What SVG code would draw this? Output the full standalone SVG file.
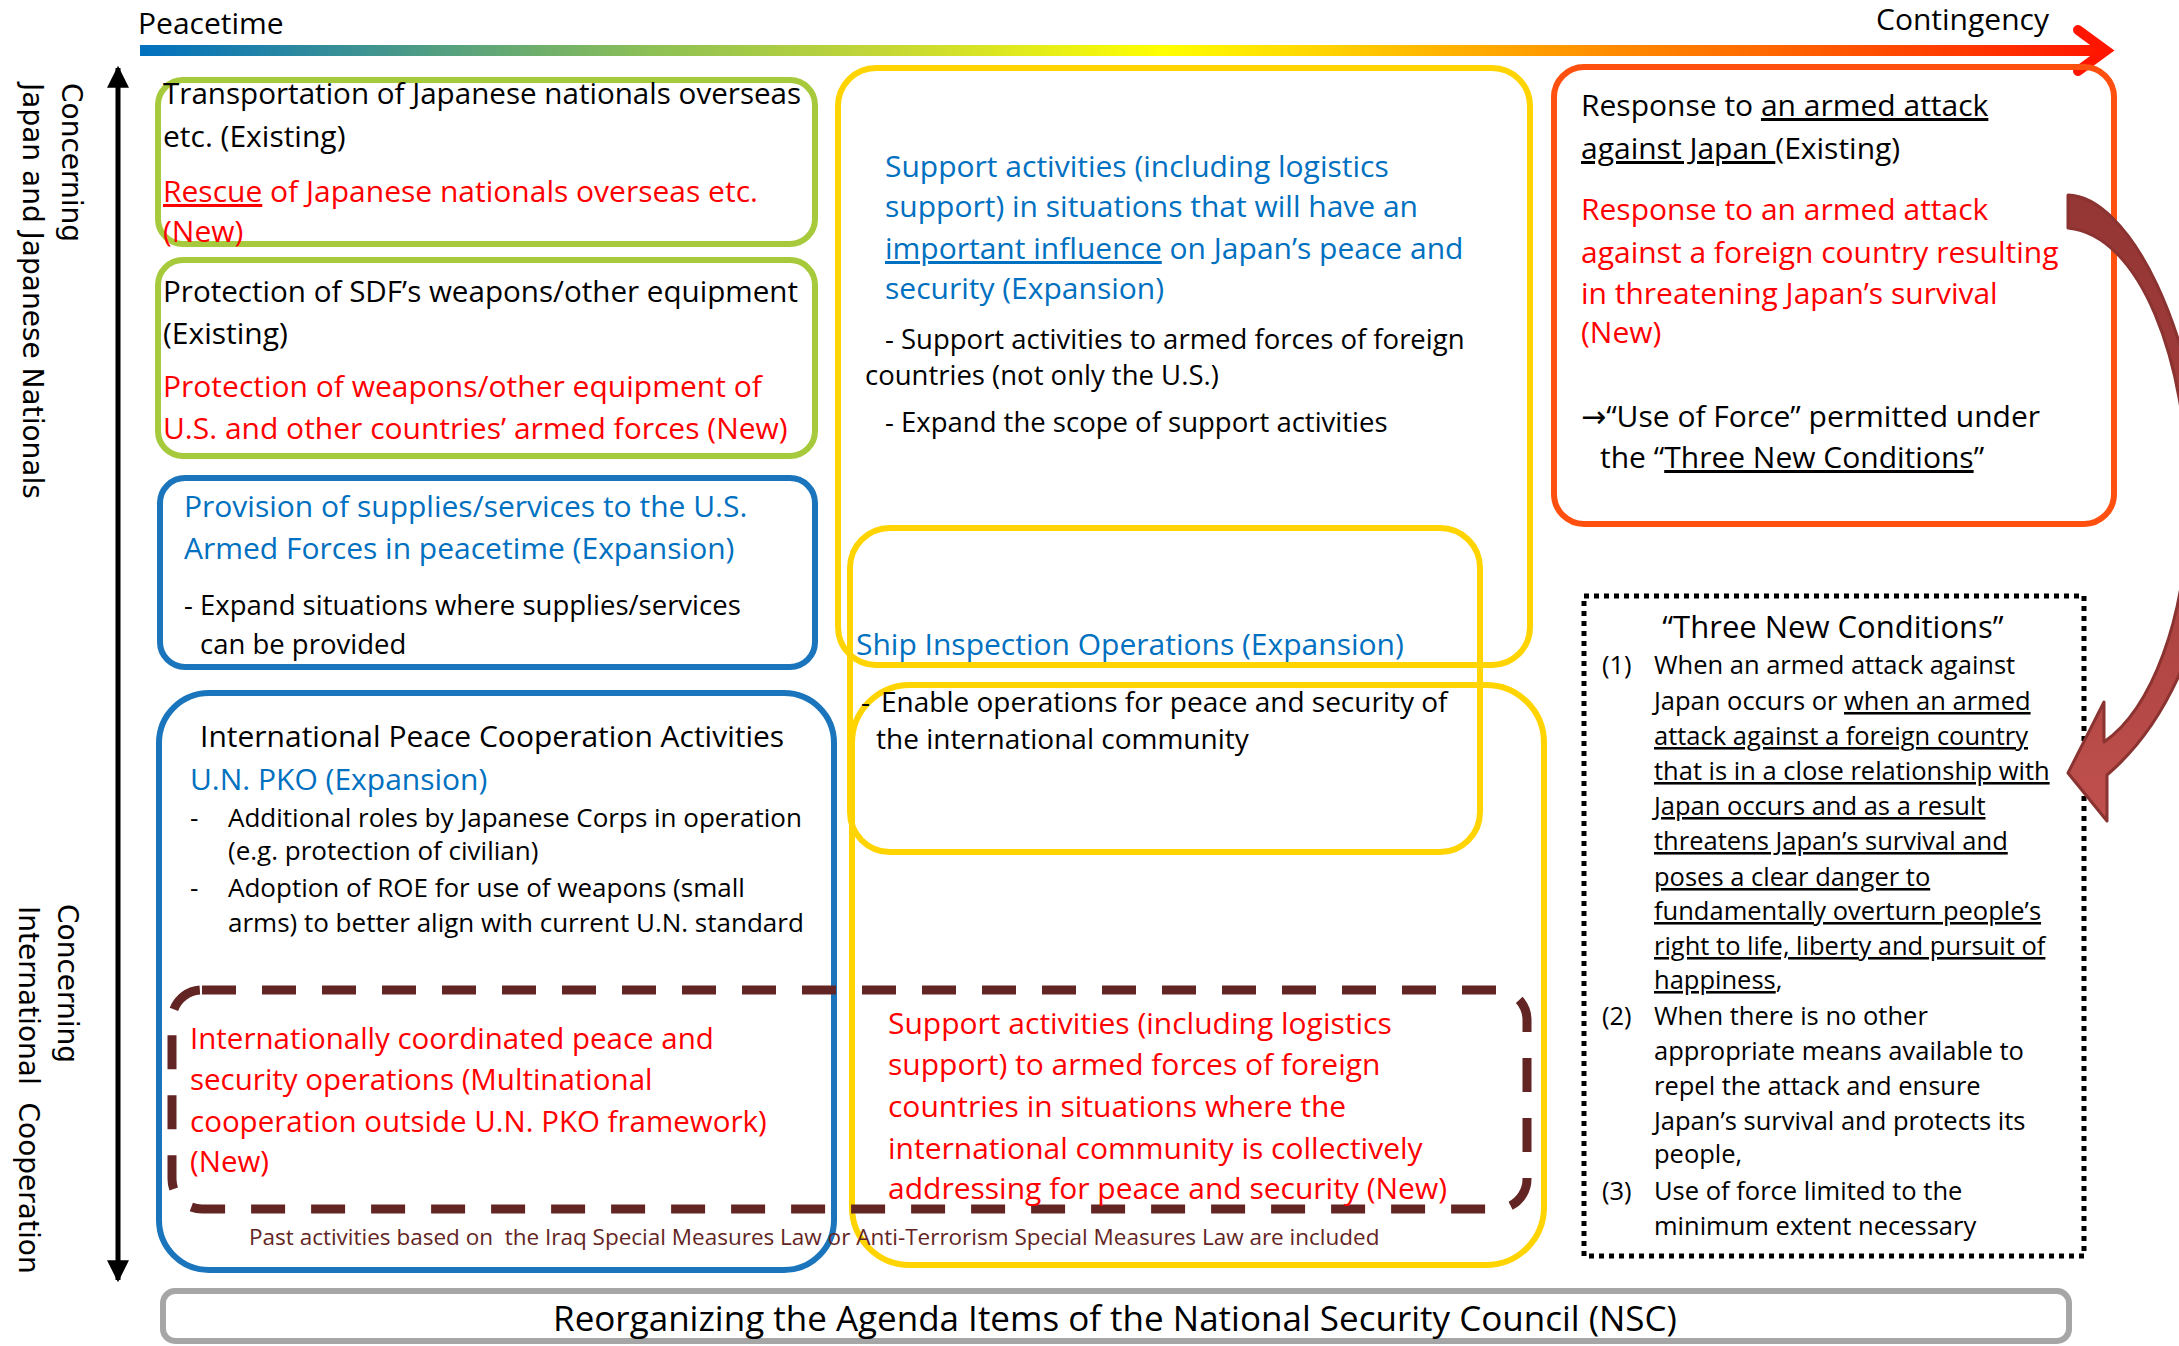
<svg xmlns="http://www.w3.org/2000/svg" width="2179" height="1346" viewBox="0 0 2179 1346">
  <defs>
    <linearGradient id="timeline" gradientUnits="userSpaceOnUse" x1="140" y1="0" x2="2110" y2="0">
      <stop offset="0" stop-color="#0070C0"/>
      <stop offset="0.26" stop-color="#8DC055"/>
      <stop offset="0.38" stop-color="#C5D735"/>
      <stop offset="0.52" stop-color="#FFFF00"/>
      <stop offset="0.65" stop-color="#FFB900"/>
      <stop offset="0.82" stop-color="#FF6A00"/>
      <stop offset="1" stop-color="#FF1500"/>
    </linearGradient>
    <linearGradient id="bend" gradientUnits="userSpaceOnUse" x1="0" y1="195" x2="0" y2="822">
      <stop offset="0" stop-color="#943634"/>
      <stop offset="0.6" stop-color="#A9413F"/>
      <stop offset="1" stop-color="#C0504D"/>
    </linearGradient>
    <marker id="axisHead" viewBox="0 0 10 10" refX="9" refY="5" markerWidth="4.4" markerHeight="4.4" orient="auto-start-reverse" markerUnits="strokeWidth">
      <path d="M0,0 L10,5 L0,10 Z" fill="#000"/>
    </marker>
  </defs>
  <style>
    text { font-family: "Open Sans", "Noto Sans", "Liberation Sans", sans-serif; font-size: 30px; fill: #000; }
    .box { fill: none; stroke-width: 6; }
    .green { stroke: #A6CA3C; }
    .blue { stroke: #1A75BC; }
    .yellow { stroke: #FFD400; }
    .orange { stroke: #FF5010; }
    .grey { stroke: #A6A6A6; }
    .t-blue { fill: #0070C0; }
    .t-red { fill: #FF0000; }
    .t-brown { fill: #632523; }
    .small { font-size: 26px; }
    .mid { font-size: 27.5px; }
    .ship { font-size: 28px; }
    .dash-red { font-size: 29.5px; }
    .tight { font-size: 29.6px; }
    .note { font-size: 22.5px; }
    .cond { font-size: 25.5px; }
    .cond-title { font-size: 31px; }
    .band { font-size: 35px; }
    .side { font-family: "DejaVu Sans", "Liberation Sans", sans-serif; font-size: 28px; }
    .glyph { font-family: "DejaVu Sans", sans-serif; }
    .u { text-decoration: underline; }
    .pre { white-space: pre; }
  </style>

  <rect width="2179" height="1346" fill="#fff"/>

  <!-- time axis: peacetime to contingency -->
  <g id="timeline-axis">
    <rect x="140" y="45" width="1966" height="11" fill="url(#timeline)"/>
    <polyline points="2078,30 2106,50.5 2078,71" fill="none" stroke="#FF1500" stroke-width="10" stroke-linecap="round" stroke-linejoin="miter"/>
    <text x="138" y="34">Peacetime</text>
    <text x="1876" y="30">Contingency</text>
  </g>

  <!-- vertical scope axis -->
  <g id="scope-axis">
    <line x1="118" y1="68" x2="118" y2="1280" stroke="#000" stroke-width="5" marker-start="url(#axisHead)" marker-end="url(#axisHead)"/>
    <text class="side" transform="translate(62,83) rotate(90)">Concerning</text>
    <text class="side" transform="translate(23,83) rotate(90)">Japan and Japanese Nationals</text>
    <text class="side" transform="translate(58,904) rotate(90)">Concerning</text>
    <text class="side pre" transform="translate(19,906) rotate(90)">International  Cooperation</text>
  </g>

  <!-- support-activities family (yellow) -->
  <g id="support-activities">
    <rect class="box yellow" x="838" y="68" width="692" height="597" rx="38"/>
    <text class="t-blue" x="885" y="177">Support activities (including logistics</text>
    <text class="t-blue" x="885" y="217">support) in situations that will have an</text>
    <text class="t-blue" x="885" y="259"><tspan class="u">important influence</tspan> on Japan’s peace and</text>
    <text class="t-blue" x="885" y="299">security (Expansion)</text>
    <text class="mid" x="885" y="349">- Support activities to armed forces of foreign</text>
    <text class="mid" x="865" y="385">countries (not only the U.S.)</text>
    <text class="mid" x="885" y="432">- Expand the scope of support activities</text>
  </g>

  <g id="international-support-frame">
    <rect class="box yellow" x="852" y="685" width="692" height="580" rx="58"/>
  </g>

  <g id="ship-inspection">
    <rect class="box yellow" x="850" y="528" width="630" height="324" rx="40" fill="#fff"/>
    <text class="t-blue" x="856" y="655">Ship Inspection Operations (Expansion)</text>
    <text class="ship" x="861" y="712">-</text>
    <text class="ship" x="881" y="712">Enable operations for peace and security of</text>
    <text class="ship" x="876" y="749">the international community</text>
  </g>

  <!-- Japan-related items (green) -->
  <g id="transport-nationals">
    <rect class="box green" x="158" y="80" width="657" height="164" rx="25"/>
    <text class="tight" x="163" y="104">Transportation of Japanese nationals overseas</text>
    <text x="163" y="147">etc. (Existing)</text>
    <text class="t-red" x="163" y="202"><tspan class="u">Rescue</tspan> of Japanese nationals overseas etc.</text>
    <text class="t-red" x="163" y="242">(New)</text>
  </g>

  <g id="equipment-protection">
    <rect class="box green" x="158" y="260" width="657" height="196" rx="25"/>
    <text class="tight" x="163" y="302">Protection of SDF’s weapons/other equipment</text>
    <text x="163" y="344">(Existing)</text>
    <text class="t-red" x="163" y="397">Protection of weapons/other equipment of</text>
    <text class="t-red" x="163" y="439">U.S. and other countries’ armed forces (New)</text>
  </g>

  <!-- blue items -->
  <g id="supplies-provision">
    <rect class="box blue" x="160" y="478" width="655" height="189" rx="25"/>
    <text class="t-blue" x="184" y="517">Provision of supplies/services to the U.S.</text>
    <text class="t-blue" x="184" y="559">Armed Forces in peacetime (Expansion)</text>
    <text class="mid" x="184" y="615">- Expand situations where supplies/services</text>
    <text class="mid" x="200" y="654">can be provided</text>
  </g>

  <g id="peace-cooperation">
    <rect class="box blue" x="159" y="693" width="675" height="577" rx="50"/>
    <text x="200" y="747">International Peace Cooperation Activities</text>
    <text class="t-blue" x="190" y="790">U.N. PKO (Expansion)</text>
    <text class="small" x="190" y="827">-</text>
    <text class="small" x="228" y="827">Additional roles by Japanese Corps in operation</text>
    <text class="small" x="228" y="860">(e.g. protection of civilian)</text>
    <text class="small" x="190" y="897">-</text>
    <text class="small" x="228" y="897">Adoption of ROE for use of weapons (small</text>
    <text class="small" x="228" y="932">arms) to better align with current U.N. standard</text>
  </g>

  <!-- new international frameworks (dashed) -->
  <g id="international-new">
    <rect x="172" y="990" width="1355" height="219" rx="30" fill="none" stroke="#632523" stroke-width="9" stroke-dasharray="34 26"/>
    <text class="t-red dash-red" x="190" y="1049">Internationally coordinated peace and</text>
    <text class="t-red dash-red" x="190" y="1090">security operations (Multinational</text>
    <text class="t-red dash-red" x="190" y="1132">cooperation outside U.N. PKO framework)</text>
    <text class="t-red dash-red" x="190" y="1172">(New)</text>
    <text class="t-red" x="888" y="1034">Support activities (including logistics</text>
    <text class="t-red" x="888" y="1075">support) to armed forces of foreign</text>
    <text class="t-red" x="888" y="1117">countries in situations where the</text>
    <text class="t-red" x="888" y="1159">international community is collectively</text>
    <text class="t-red" x="888" y="1199">addressing for peace and security (New)</text>
    <text class="t-brown note pre" x="249" y="1245">Past activities based on  the Iraq Special Measures Law or Anti-Terrorism Special Measures Law are included</text>
  </g>

  <!-- armed attack response (orange) -->
  <g id="armed-attack">
    <rect class="box orange" x="1554" y="67" width="560" height="457" rx="30"/>
    <text x="1581" y="116">Response to <tspan class="u">an armed attack</tspan></text>
    <text x="1581" y="159"><tspan class="u">against Japan </tspan>(Existing)</text>
    <text class="t-red" x="1581" y="220">Response to an armed attack</text>
    <text class="t-red" x="1581" y="263">against a foreign country resulting</text>
    <text class="t-red" x="1581" y="304">in threatening Japan’s survival</text>
    <text class="t-red" x="1581" y="343">(New)</text>
    <text x="1581" y="427"><tspan class="glyph">→</tspan>“Use of Force” permitted under</text>
    <text x="1600" y="468">the “<tspan class="u">Three New Conditions</tspan>”</text>
  </g>

  <!-- the three conditions -->
  <g id="three-conditions">
    <rect x="1584" y="596" width="500" height="660" fill="none" stroke="#000" stroke-width="5" stroke-dasharray="5 5"/>
    <text class="cond-title" x="1833" y="638" text-anchor="middle">“Three New Conditions”</text>
    <text class="cond" x="1602" y="674">(1)</text>
    <text class="cond" x="1654" y="674">When an armed attack against</text>
    <text class="cond" x="1654" y="710">Japan occurs or <tspan class="u">when an armed</tspan></text>
    <text class="cond u" x="1654" y="745">attack against a foreign country</text>
    <text class="cond u" x="1654" y="780">that is in a close relationship with</text>
    <text class="cond u" x="1654" y="815">Japan occurs and as a result</text>
    <text class="cond u" x="1654" y="850">threatens Japan’s survival and</text>
    <text class="cond u" x="1654" y="886">poses a clear danger to</text>
    <text class="cond u" x="1654" y="920">fundamentally overturn people’s</text>
    <text class="cond u" x="1654" y="955">right to life, liberty and pursuit of</text>
    <text class="cond" x="1654" y="989"><tspan class="u">happiness</tspan>,</text>
    <text class="cond" x="1602" y="1025">(2)</text>
    <text class="cond" x="1654" y="1025">When there is no other</text>
    <text class="cond" x="1654" y="1060">appropriate means available to</text>
    <text class="cond" x="1654" y="1095">repel the attack and ensure</text>
    <text class="cond" x="1654" y="1130">Japan’s survival and protects its</text>
    <text class="cond" x="1654" y="1163">people,</text>
    <text class="cond" x="1602" y="1200">(3)</text>
    <text class="cond" x="1654" y="1200">Use of force limited to the</text>
    <text class="cond" x="1654" y="1235">minimum extent necessary</text>
  </g>

  <!-- NSC band -->
  <g id="nsc">
    <rect class="box grey" x="163" y="1291" width="1906" height="50" rx="12" fill="#fff"/>
    <text class="band" x="1115" y="1331" text-anchor="middle">Reorganizing the Agenda Items of the National Security Council (NSC)</text>
  </g>

  <!-- connector: armed-attack box to the three conditions -->
  <g id="connectors">
    <path d="M2068,195 C2125,196 2200,320 2210,530 C2210,640 2160,730 2107,775 L2107,821 L2068,773 L2104,702 L2104,742 C2150,710 2188,620 2188,500 C2188,360 2140,235 2068,228 Z" fill="url(#bend)" stroke="#8A3331" stroke-width="3" stroke-linejoin="round"/>
  </g>
</svg>
